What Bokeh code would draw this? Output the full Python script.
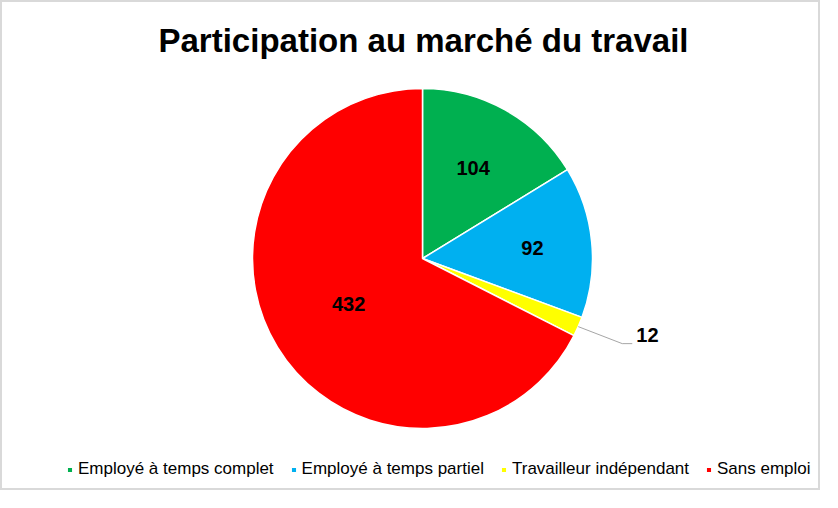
import math
from bokeh.plotting import figure
from bokeh.models import Range1d, Legend, LegendItem
from bokeh.core.properties import value
from bokeh.embed import file_html
from bokeh.resources import INLINE

categories = ["Employé à temps complet", "Employé à temps partiel", "Travailleur indépendant", "Sans emploi"]
values = [104, 92, 12, 432]
colors = ["#00B050", "#00B0F0", "#FFFF00", "#FF0000"]

W, H = 820, 490
TOP = 58
FH = H - TOP

p = figure(width=W, height=H, output_backend="svg", toolbar_location=None,
           x_range=Range1d(0, W), y_range=Range1d(0, FH),
           min_border=0, min_border_top=TOP, min_border_left=0, min_border_right=0, min_border_bottom=0,
           title="Participation au marché du travail")
p.axis.visible = False
p.grid.visible = False
p.outline_line_color = None
p.border_fill_color = "white"
p.background_fill_color = "white"
p.title.align = "left"
p.title.text_font = "Liberation Sans"
p.title.text_font_size = "33px"
p.title.text_font_style = "bold"
p.title.text_color = "black"
p.title.offset = 156
p.title.standoff = 3
p.styles = {"border": "2px solid #d9d9d9"}

cx, cy = 420, FH - (256 - TOP)
R = 170

total = sum(values)
starts, ends, mids = [], [], []
cum = 0
for v in values:
    a0 = math.pi / 2 - 2 * math.pi * cum / total
    cum += v
    a1 = math.pi / 2 - 2 * math.pi * cum / total
    starts.append(a0)
    ends.append(a1)
    mids.append((a0 + a1) / 2)

renderers = []
for i in range(len(values)):
    r = p.wedge(x=cx, y=cy, radius=R, radius_units="screen",
                start_angle=starts[i], end_angle=ends[i], direction="clock",
                fill_color=colors[i], line_color="white", line_width=1.5)
    renderers.append(r)

# inside labels
label_frac = [0.61, 0.65, None, 0.51]
lx, ly, lt = [], [], []
for i, v in enumerate(values):
    if label_frac[i] is None:
        continue
    lx.append(cx + R * label_frac[i] * math.cos(mids[i]))
    ly.append(cy + R * label_frac[i] * math.sin(mids[i]))
    lt.append(str(v))
p.text(x=lx, y=ly, text=lt, text_font=value("Liberation Sans"), text_font_style="bold",
       text_font_size="20px", text_align="center", text_baseline="middle", text_color="black")

# outside label with leader line for the small slice
i = 2
sx = cx + R * math.cos(mids[i])
sy = cy + R * math.sin(mids[i])
ex, ey = sx + 44, sy - 17
p.line(x=[sx, ex, ex + 10], y=[sy, ey, ey], line_color="#a6a6a6", line_width=1)
p.text(x=[ex + 14], y=[ey + 9], text=[str(values[i])], text_font=value("Liberation Sans"),
       text_font_style="bold", text_font_size="20px", text_align="left",
       text_baseline="middle", text_color="black")

legend = Legend(items=[LegendItem(label=categories[k], renderers=[renderers[k]]) for k in range(len(values))],
                orientation="horizontal", location=(64, 13),
                glyph_width=7, glyph_height=7, label_standoff=5, spacing=16,
                label_text_font="Liberation Sans", label_text_font_size="17px",
                label_text_color="black", background_fill_alpha=0, border_line_color=None,
                padding=0, margin=0)
p.add_layout(legend, "center")

open("out.html", "w").write(file_html(p, INLINE))
